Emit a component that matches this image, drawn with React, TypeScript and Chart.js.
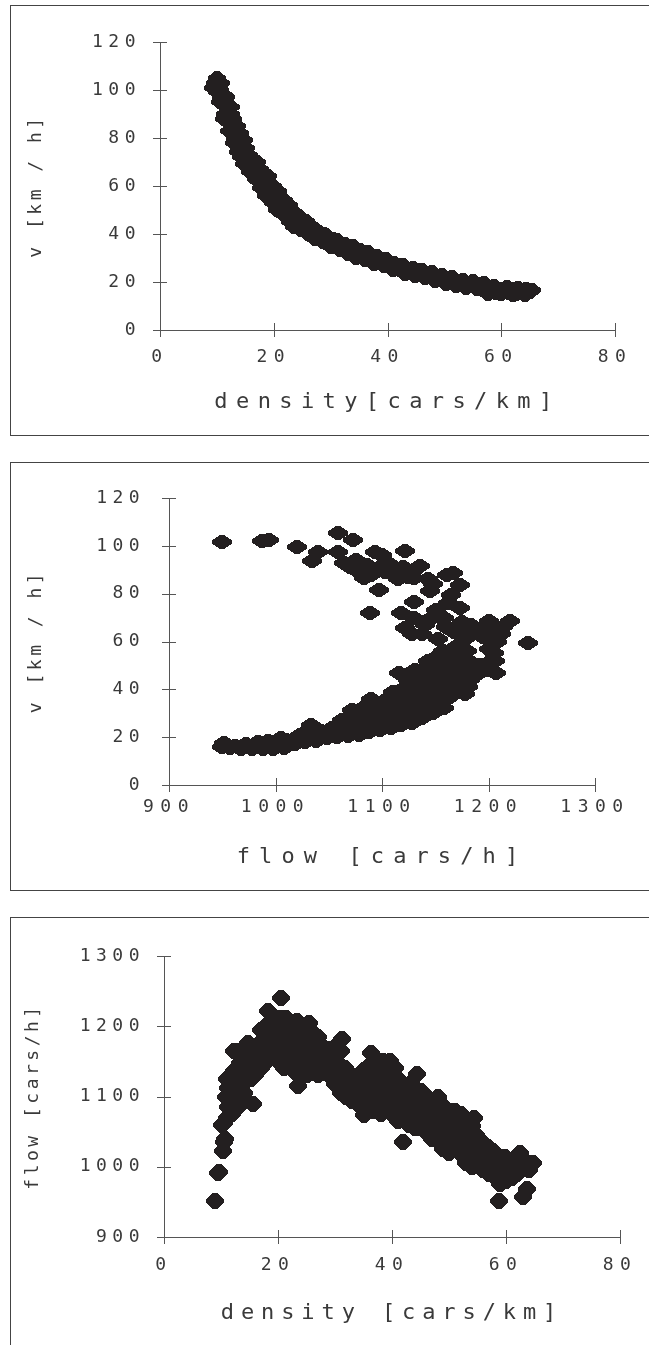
import React, { useEffect, useRef } from 'react';
import { Chart, registerables, LinearScale } from 'chart.js';

// ---------------- data ----------------
const p1XTicks = [0, 20, 40, 60, 80];
const p1YTicks = [0, 20, 40, 60, 80, 100, 120];
const p1Density = [
  9.3, 9.6, 10.0, 10.3, 10.0, 10.6, 10.8, 11.2, 11.0, 11.5,
  11.9, 11.4, 12.1, 12.5, 12.3, 12.9, 12.6, 13.2, 13.5, 13.1,
  13.8, 14.2, 13.9, 14.5, 14.8, 14.3, 15.0, 15.4, 15.8, 16.0,
  16.4, 16.8, 16.6, 17.2, 17.6, 17.3, 18.0, 18.4, 18.1, 18.8,
  19.2, 19.0, 19.6, 20.0, 20.4, 20.2, 20.8, 21.2, 21.6, 21.0,
  22.0, 22.4, 22.8, 22.5, 23.2, 23.6, 24.2, 24.0, 24.8, 25.3,
  25.8, 26.2, 26.8, 27.2, 27.6, 28.2, 28.8, 29.3, 29.8, 30.4,
  30.9, 31.5, 32.0, 32.6, 33.2, 33.8, 34.4, 35.0, 35.6, 36.2,
  36.8, 37.4, 38.0, 38.6, 39.2, 39.8, 40.4, 41.0, 41.6, 42.2,
  42.8, 43.4, 44.0, 44.6, 45.2, 45.8, 46.4, 47.0, 47.6, 48.2,
  48.8, 49.4, 50.0, 50.6, 51.2, 51.8, 52.4, 53.0, 53.6, 54.2,
  54.8, 55.4, 56.0, 56.6, 57.2, 57.8, 58.4, 59.0, 59.6, 60.2,
  60.8, 61.4, 62.0, 62.6, 63.2, 63.8, 64.4, 65.0,
  10.8, 9.8, 11.6, 10.6, 12.4, 11.2, 12.8, 13.6, 12.2, 14.0,
  13.0, 14.8, 15.2, 13.8, 15.6, 14.8, 16.6, 17.0, 15.9, 17.6,
  18.2, 16.8, 19.0, 17.8, 19.8, 18.6, 20.8, 19.8, 21.8, 20.6,
  22.6, 21.8, 23.6, 22.8, 24.6, 23.6, 25.6, 24.8, 26.6, 26.0,
  28.0, 27.2, 29.2, 28.6, 30.4, 31.2, 30.0, 32.6, 31.6, 34.0,
  33.0, 35.2, 34.4, 36.6, 36.0, 38.2, 37.6, 39.8, 39.4, 41.2,
  41.0, 42.8, 43.0, 44.4, 44.8, 46.0, 46.6, 47.8, 48.4, 49.6,
  50.2, 51.4, 52.0, 53.2, 53.8, 55.0, 55.8, 57.0, 57.6, 58.8,
  60.0, 61.0, 62.0, 63.0, 64.2, 65.4,
];
const p1Speed = [
  101, 103, 105, 102, 99, 100, 97, 98, 95, 94,
  92, 90, 89, 90, 87, 86, 84, 84, 82, 80,
  80, 78, 76, 76, 74, 72, 72, 70, 71, 69,
  67, 68, 65, 66, 64, 62, 63, 61, 60, 62,
  59, 57, 58, 56, 57, 54, 55, 53, 52, 51,
  50, 51, 49, 47, 48, 46, 46, 44, 45, 43,
  44, 42, 41, 42, 40, 39, 40, 38, 37, 38,
  36, 35, 36, 34, 33, 34, 32, 31, 32, 30,
  31, 29, 30, 28, 29, 27, 28, 26, 27, 25.5,
  26, 24.5, 25.5, 24, 25, 23, 24, 22.5, 23.5, 21.5,
  22.5, 21, 22, 20, 21, 19.5, 20.5, 19, 20, 18.5,
  19.5, 18, 19, 17.5, 18.5, 16, 17.5, 15.5, 17, 16,
  17.5, 15.5, 17, 15, 16.5, 15.5, 17, 16,
  103, 100.5, 97, 95, 93, 88, 88, 85, 83, 82,
  78, 79, 76, 74, 73, 69, 71, 70, 66, 67,
  65, 63, 64, 59, 60, 56, 58, 53, 54, 50,
  52, 48, 49, 45, 47, 43, 45.5, 41.5, 43.5, 40,
  41, 38, 39.5, 36.5, 36.5, 37.5, 34.5, 36, 33.5, 35,
  31.5, 33.5, 30, 32.5, 29, 31, 27.5, 29.5, 26.5, 28,
  25, 27, 23.5, 26, 22.5, 25, 21.5, 24, 20.5, 23,
  19, 22, 18.5, 21, 17.5, 20.5, 17, 19.5, 15, 18.5,
  15, 18, 14.5, 17.5, 14.5, 16.5,
];

const p2XTicks = [900, 1000, 1100, 1200, 1300];
const p2YTicks = [0, 20, 40, 60, 80, 100, 120];
const p2FlowFree = [
  950, 987, 994, 1020, 1059, 1073, 1040, 1034, 1059, 1064,
  1070, 1078, 1083, 1086, 1093, 1100, 1098, 1103, 1111, 1116,
  1122, 1124, 1128, 1136, 1097, 1089, 1118, 1130, 1145, 1148,
  1161, 1167, 1173, 1165, 1162, 1173, 1151, 1155, 1145, 1122,
  1128, 1138, 1140, 1153, 1160, 1168, 1175, 1184, 1190, 1196,
  1200, 1206, 1212, 1220, 1237, 1200, 1208, 1205, 1178, 1172, 1130,
  1106, 1115, 1120, 1130, 1090, 1076, 1081, 1143, 1158, 1181, 1195, 1214,
];
const p2SpeedFree = [
  101.5, 102, 102.5, 99.5, 105.5, 102.5, 97.5, 93.5, 97.5, 93,
  91, 89, 86.5, 92, 97.5, 96, 91, 89, 88, 90,
  98, 87, 89, 91.5, 81.5, 72, 72, 76.5, 81, 84,
  88, 88.5, 83.5, 79.5, 76, 74, 73, 70, 69.5, 65.5,
  63, 63, 67, 61, 66, 64, 68, 67, 64, 66,
  68.5, 65, 63, 68.5, 59.5, 57, 60, 55, 61, 58, 70,
  93, 86, 91, 86.5, 88, 94, 92, 86, 70, 63, 62, 66,
];
const p2FlowCong = [
  950, 952, 957, 962, 968, 972, 978, 981, 984, 988,
  991, 993, 998, 1001, 1003, 1005, 1008, 1012, 1010, 1018,
  1021, 1023, 1028, 1031, 1029, 1033, 1038, 1041, 1043, 1048,
  1051, 1053, 1058, 1061, 1063, 1062, 1068, 1071, 1073, 1070,
  1072, 1078, 1081, 1083, 1079, 1082, 1088, 1091, 1093, 1089,
  1092, 1090, 1098, 1101, 1103, 1099, 1102, 1108, 1111, 1113,
  1109, 1112, 1110, 1118, 1121, 1123, 1119, 1122, 1120, 1124,
  1116, 1128, 1131, 1133, 1129, 1132, 1130, 1134, 1131, 1138,
  1141, 1143, 1139, 1142, 1140, 1144, 1141, 1143, 1148, 1151,
  1153, 1149, 1152, 1150, 1154, 1151, 1153, 1158, 1161, 1163,
  1159, 1162, 1160, 1157, 1168, 1171, 1173, 1169, 1172, 1170,
  1178, 1181, 1183, 1179, 1182, 1180, 1188, 1192, 1198, 1202,
  1200, 1207, 1206,
];
const p2SpeedCong = [
  16, 17.5, 15.5, 16.5, 15, 17, 15, 16.5, 18, 15,
  17, 18.5, 15, 16.5, 18, 19.5, 15.5, 17.5, 19, 17,
  19, 21, 18, 20, 22, 25, 18.5, 20.5, 22.5, 19.5,
  21.5, 24, 20, 22.5, 25, 27, 20.5, 23, 26, 29,
  31.5, 21, 24, 27, 30, 32, 22, 25, 28, 31,
  34, 36, 23, 26, 29, 32, 35, 24, 27, 30,
  33, 36, 39, 25, 28, 31, 34, 37, 40, 44,
  47, 26, 30, 33, 36, 39, 42, 45, 48, 28,
  31, 34, 37, 40, 43, 46, 49, 52, 30, 33,
  36, 39, 42, 45, 48, 51, 54, 32, 36, 40,
  44, 48, 52, 56, 38, 42, 46, 50, 54, 58,
  38, 41, 44, 48, 52, 56, 46, 50, 48, 52,
  62, 47, 52,
];

const p3XTicks = [0, 20, 40, 60, 80];
const p3YTicks = [900, 1000, 1100, 1200, 1300];
const p3Density = [
  9, 9.4, 9.7, 10.3, 10.7, 10.5, 10.1, 10.6,
  11, 11.2, 10.9, 11.3, 11.1,
  12, 12.2, 11.8, 12.1, 12.3, 12.2,
  13, 13.2, 12.8, 13.1, 13.3, 13,
  14, 14.2, 13.8, 14.1, 14.3, 14.8,
  15.2, 15, 15.3, 15.7, 15.5,
  16, 16.2, 15.9, 16.4,
  17, 17.2, 16.8, 17.1,
  18, 18.2, 17.8, 18.1, 18.3,
  19, 19.2, 18.8, 19.1,
  20, 19.8, 20.2, 20, 20.3, 20.6,
  21, 21.2, 20.8, 21.4,
  22, 22.2, 21.8, 22.1,
  23, 23.2, 22.8, 23.1, 23.5, 23.3,
  24, 24.2, 23.8, 24.1, 24.4,
  25, 25.2, 24.8, 25.1, 25.4,
  26, 26.2, 25.8, 26.1,
  27, 27.2, 26.8, 27.1,
  28, 28.2, 27.8,
  29, 29.2, 28.8,
  30, 30.2, 29.8, 30.1,
  31, 31.2, 30.8, 31.1, 31.3,
  32, 32.2, 31.8,
  33, 33.2, 32.8,
  34, 34.2, 33.8,
  35, 35.2, 34.8, 35.1,
  36, 36.2, 35.8, 36.1, 36.4,
  37, 37.2, 36.8, 37.1,
  38, 38.2, 37.8, 38.1, 38.4,
  39, 39.2, 38.8, 39.1, 39.6,
  40, 40.2, 39.8, 40.1, 40.5,
  41, 41.2, 40.8, 41.1,
  42, 42.2, 41.8, 42.1,
  43, 43.2, 42.8, 43.1,
  44, 44.2, 43.8, 44.1, 44.4,
  45, 45.2, 44.8, 45.1,
  46, 46.2, 45.8, 46.1,
  47, 47.2, 46.8, 47.1,
  48, 48.2, 47.8, 48.1,
  49, 49.2, 48.8, 49.1,
  50, 50.2, 49.8, 50.1,
  51, 51.2, 50.8, 51.1,
  52, 52.2, 51.8, 52.1,
  53, 53.2, 52.8, 53.1,
  54, 54.2, 53.8, 54.1, 54.4,
  55, 55.2, 54.8,
  56, 56.2, 55.8,
  57, 57.2, 56.8,
  58, 58.2, 57.8,
  59, 59.2, 58.8, 58.7,
  60, 60.2, 59.8,
  61, 61.2,
  62, 62.2, 62.4,
  63, 63.1, 62.8,
  63.6, 64, 64.2,
  64.8,
];
const p3Flow = [
  951, 991, 993, 1022, 1040, 1035, 1059, 1062,
  1070, 1085, 1100, 1112, 1125,
  1075, 1092, 1105, 1120, 1137, 1165,
  1085, 1100, 1115, 1130, 1148, 1165,
  1105, 1120, 1138, 1155, 1170, 1176,
  1125, 1142, 1160, 1090, 1170,
  1130, 1148, 1165, 1140,
  1140, 1158, 1176, 1195,
  1150, 1168, 1185, 1202, 1222,
  1160, 1178, 1196, 1212,
  1150, 1164, 1180, 1200, 1212, 1240,
  1140, 1158, 1175, 1212,
  1150, 1168, 1188, 1206,
  1135, 1155, 1175, 1195, 1115, 1208,
  1130, 1150, 1170, 1190, 1200,
  1130, 1150, 1170, 1188, 1205,
  1133, 1152, 1172, 1190,
  1130, 1150, 1170, 1185,
  1133, 1153, 1172,
  1130, 1150, 1168,
  1118, 1138, 1158, 1172,
  1105, 1125, 1145, 1165, 1182,
  1100, 1120, 1140,
  1094, 1114, 1130,
  1090, 1110, 1126,
  1073, 1095, 1115, 1138,
  1080, 1100, 1120, 1145, 1162,
  1080, 1100, 1120, 1140,
  1075, 1095, 1115, 1135, 1150,
  1080, 1100, 1120, 1140, 1150,
  1075, 1095, 1115, 1135, 1140,
  1065, 1085, 1105, 1125,
  1035, 1070, 1090, 1110,
  1060, 1080, 1100, 1118,
  1055, 1075, 1095, 1112, 1132,
  1055, 1075, 1095, 1108,
  1050, 1070, 1088, 1100,
  1040, 1060, 1080, 1095,
  1045, 1065, 1085, 1100,
  1025, 1045, 1065, 1085,
  1020, 1040, 1060, 1080,
  1030, 1050, 1068, 1080,
  1020, 1040, 1058, 1075,
  1005, 1025, 1045, 1063,
  1000, 1020, 1040, 1058, 1070,
  1005, 1025, 1045,
  995, 1015, 1035,
  990, 1010, 1028,
  985, 1005, 1022,
  975, 995, 1012, 951,
  980, 998, 1014,
  984, 1000,
  990, 1005, 1020,
  957, 1000, 1012,
  969, 995, 1005,
  1006,
];

// ---------------- styling ----------------
const FONT = '"DejaVu Sans Mono", "Liberation Mono", monospace';
const INK = '#231f20';
const TEXT = '#3a3a3a';
const AXIS = '#555555';
const PAGE_W = 649;

class SpacedLinearScale extends (LinearScale as any) {
  static id = 'spacedLinear';
  static defaults = (LinearScale as any).defaults;
  drawLabels(chartArea: any) {
    const ctx = this.ctx;
    ctx.save();
    ctx.letterSpacing = (this.options.labelSpacing || 0) + 'px';
    super.drawLabels(chartArea);
    ctx.restore();
  }
  drawTitle() {
    const ctx = this.ctx;
    ctx.save();
    ctx.letterSpacing = (this.options.titleSpacing || 0) + 'px';
    super.drawTitle();
    ctx.restore();
  }
  draw(chartArea: any) {
    super.draw(chartArea);
    const ctx = this.ctx;
    const len = 7;
    ctx.save();
    ctx.strokeStyle = AXIS;
    ctx.lineWidth = 1;
    ctx.beginPath();
    for (const t of this.ticks) {
      const p = Math.round(this.getPixelForValue(t.value)) + 0.5;
      if (this.isHorizontal()) {
        const y = Math.round(this.top);
        ctx.moveTo(p, y - len);
        ctx.lineTo(p, y + len);
      } else {
        const x = Math.round(this.right);
        ctx.moveTo(x - len, p);
        ctx.lineTo(x + len, p);
      }
    }
    ctx.stroke();
    ctx.restore();
  }
}

// snap marker centres to whole pixels so the solid (non-antialiased) markers tile without seams
const snapPoints = {
  id: 'snapPoints',
  beforeDatasetsDraw(chart: any) {
    chart.data.datasets.forEach((_d: any, i: number) => {
      const meta = chart.getDatasetMeta(i);
      meta.data.forEach((el: any) => {
        el.x = Math.round(el.x);
        el.y = Math.round(el.y);
      });
    });
  },
};

Chart.register(...registerables, SpacedLinearScale as any);

// solid, blunt-tipped diamond marker (wider than tall), drawn row by row
function makeDiamond(w: number, h: number) {
  const c = document.createElement('canvas');
  c.width = w;
  c.height = h;
  const g = c.getContext('2d')!;
  g.fillStyle = INK;
  for (let j = 0; j < h; j++) {
    const yc = j + 0.5 - h / 2;
    const t = 1 - Math.abs(yc) / (h / 2);
    const half = Math.min(w / 2, (w / 2) * (t + 0.22));
    const x0 = Math.round(w / 2 - half);
    const x1 = Math.round(w / 2 + half);
    g.fillRect(x0, j, x1 - x0, 1);
  }
  return c;
}

type Spec = {
  top: number;
  height: number;
  xTicks: number[];
  yTicks: number[];
  xs: number[];
  ys: number[];
  xTitle: string;
  yTitle: string;
  area: { left: number; right: number; top: number; bottom: number };
  xTickPad: number;
  yTickPad: number;
  xTitlePad: number;
  yTitlePad: number;
  xTitleSpacing: number;
  yTitleSpacing: number;
  marker: [number, number];
};

const X_H = 100;

function buildChart(canvas: HTMLCanvasElement, s: Spec) {
  const pts = s.xs.map((x, i) => ({ x, y: s.ys[i] }));
  const diamond = makeDiamond(s.marker[0], s.marker[1]);
  const step = (a: number[]) => a[1] - a[0];
  const tickFont = { family: FONT, size: 18 };
  return new Chart(canvas, {
    type: 'scatter',
    plugins: [snapPoints],
    data: {
      datasets: [
        {
          data: pts,
          pointStyle: diamond as any,
          pointRadius: 9,
          pointHoverRadius: 9,
          backgroundColor: INK,
          borderColor: INK,
          borderWidth: 0,
        },
      ],
    },
    options: {
      responsive: false,
      animation: false,
      devicePixelRatio: 1,
      events: [],
      layout: {
        padding: {
          left: 0,
          top: s.area.top,
          right: PAGE_W - s.area.right,
          bottom: s.height - s.area.bottom - X_H,
        },
      },
      plugins: { legend: { display: false }, tooltip: { enabled: false } },
      scales: {
        x: {
          type: 'spacedLinear' as any,
          position: 'bottom',
          min: s.xTicks[0],
          max: s.xTicks[s.xTicks.length - 1],
          labelSpacing: 6.5,
          titleSpacing: s.xTitleSpacing,
          afterFit: (sc: any) => {
            sc.height = X_H;
          },
          ticks: {
            stepSize: step(s.xTicks),
            padding: s.xTickPad,
            font: tickFont,
            color: TEXT,
            maxRotation: 0,
            autoSkip: false,
            callback: (v: any) => String(v),
          },
          grid: { display: false, drawTicks: false },
          border: { display: true, color: AXIS, width: 1 },
          title: {
            display: true,
            text: s.xTitle,
            color: TEXT,
            font: { family: FONT, size: 22 },
            padding: { top: 0, bottom: s.xTitlePad },
          },
        } as any,
        y: {
          type: 'spacedLinear' as any,
          position: 'left',
          min: s.yTicks[0],
          max: s.yTicks[s.yTicks.length - 1],
          labelSpacing: 5.5,
          titleSpacing: s.yTitleSpacing,
          afterFit: (sc: any) => {
            sc.width = s.area.left;
          },
          ticks: {
            stepSize: step(s.yTicks),
            padding: s.yTickPad,
            font: tickFont,
            color: TEXT,
            autoSkip: false,
            callback: (v: any) => String(v),
          },
          grid: { display: false, drawTicks: false },
          border: { display: true, color: AXIS, width: 1 },
          title: {
            display: true,
            text: s.yTitle,
            color: TEXT,
            font: { family: FONT, size: 18 },
            padding: { top: s.yTitlePad, bottom: 0 },
          },
        } as any,
      },
    } as any,
  });
}

const specs: Spec[] = [
  {
    top: 0,
    height: 448,
    xTicks: p1XTicks,
    yTicks: p1YTicks,
    xs: p1Density,
    ys: p1Speed,
    xTitle: 'density[cars/km]',
    yTitle: 'v [km / h]',
    area: { left: 160, right: 615, top: 42, bottom: 330 },
    xTickPad: 16.7,
    yTickPad: 19,
    xTitlePad: 15,
    yTitlePad: 26,
    xTitleSpacing: 8.4,
    yTitleSpacing: 3.5,
    marker: [18, 14],
  },
  {
    top: 448,
    height: 452,
    xTicks: p2XTicks,
    yTicks: p2YTicks,
    xs: [...p2FlowFree, ...p2FlowCong],
    ys: [...p2SpeedFree, ...p2SpeedCong],
    xTitle: 'flow [cars/h]',
    yTitle: 'v [km / h]',
    area: { left: 169, right: 595, top: 50, bottom: 337 },
    xTickPad: 11.7,
    yTickPad: 23.8,
    xTitlePad: 15,
    yTitlePad: 26,
    xTitleSpacing: 9.1,
    yTitleSpacing: 3.5,
    marker: [20, 14],
  },
  {
    top: 900,
    height: 445,
    xTicks: p3XTicks,
    yTicks: p3YTicks,
    xs: p3Density,
    ys: p3Flow,
    xTitle: 'density [cars/km]',
    yTitle: 'flow [cars/h]',
    area: { left: 164, right: 620, top: 56, bottom: 337 },
    xTickPad: 18,
    yTickPad: 19,
    xTitlePad: 11,
    yTitlePad: 23,
    xTitleSpacing: 6.9,
    yTitleSpacing: 3.5,
    marker: [18, 16],
  },
];

function Panel({ spec }: { spec: Spec }) {
  const ref = useRef<HTMLCanvasElement | null>(null);
  useEffect(() => {
    if (!ref.current) return;
    const chart = buildChart(ref.current, spec);
    return () => chart.destroy();
  }, [spec]);
  return (
    <canvas
      ref={ref}
      width={PAGE_W}
      height={spec.height}
      style={{ position: 'absolute', left: 0, top: spec.top, width: PAGE_W, height: spec.height }}
    />
  );
}

const frames = [
  { top: 5, height: 429 },
  { top: 462, height: 427 },
  { top: 917, height: 600 },
];

export default function App() {
  return (
    <div
      style={{
        position: 'absolute',
        left: 0,
        top: 0,
        width: PAGE_W,
        height: 1345,
        overflow: 'hidden',
        background: '#ffffff',
      }}
    >
      {frames.map((f, i) => (
        <div
          key={i}
          style={{
            position: 'absolute',
            left: 10,
            top: f.top,
            width: 700,
            height: f.height,
            border: '1px solid #444',
          }}
        />
      ))}
      {specs.map((s, i) => (
        <Panel key={i} spec={s} />
      ))}
    </div>
  );
}
